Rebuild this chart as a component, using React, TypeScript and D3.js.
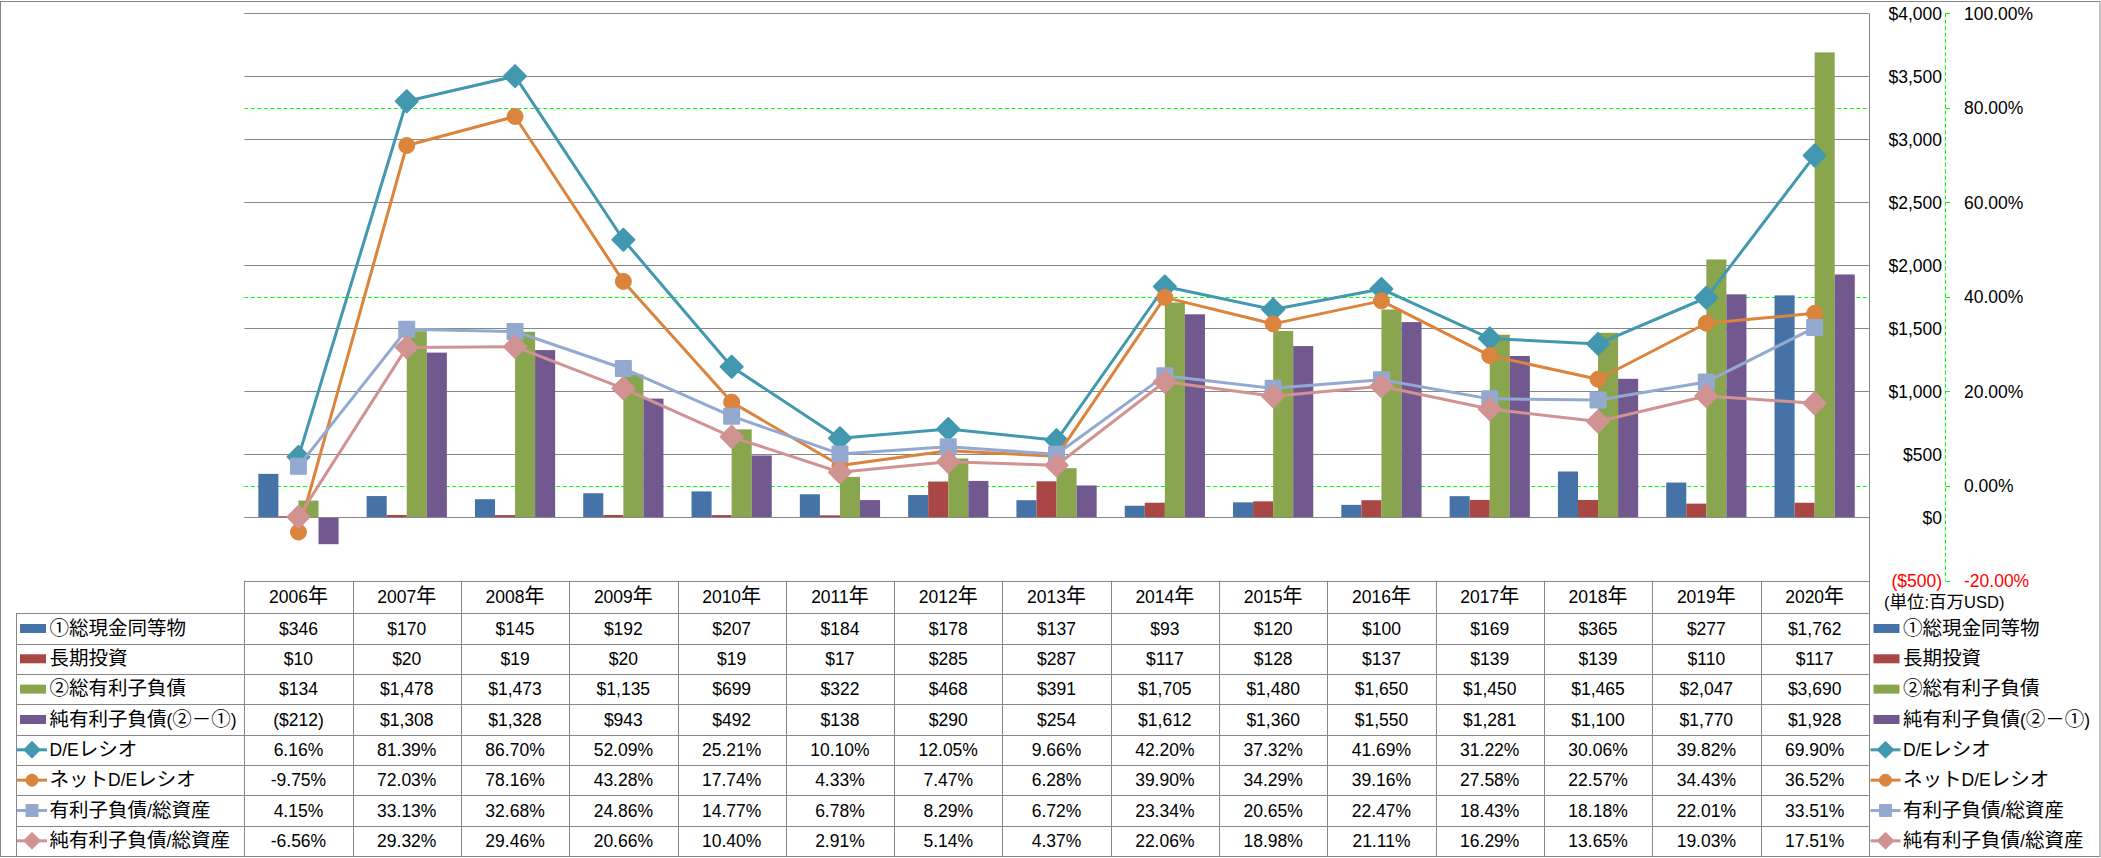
import React from "react";
import * as d3 from "d3";

const years = ["2006年","2007年","2008年","2009年","2010年","2011年","2012年","2013年","2014年","2015年","2016年","2017年","2018年","2019年","2020年"];
const cash = [346,170,145,192,207,184,178,137,93,120,100,169,365,277,1762];
const ltInvest = [10,20,19,20,19,17,285,287,117,128,137,139,139,110,117];
const debt = [134,1478,1473,1135,699,322,468,391,1705,1480,1650,1450,1465,2047,3690];
const netDebt = [-212,1308,1328,943,492,138,290,254,1612,1360,1550,1281,1100,1770,1928];
const deRatio = [6.16,81.39,86.70,52.09,25.21,10.10,12.05,9.66,42.20,37.32,41.69,31.22,30.06,39.82,69.90];
const netDeRatio = [-9.75,72.03,78.16,43.28,17.74,4.33,7.47,6.28,39.90,34.29,39.16,27.58,22.57,34.43,36.52];
const debtToAssets = [4.15,33.13,32.68,24.86,14.77,6.78,8.29,6.72,23.34,20.65,22.47,18.43,18.18,22.01,33.51];
const netDebtToAssets = [-6.56,29.32,29.46,20.66,10.40,2.91,5.14,4.37,22.06,18.98,21.11,16.29,13.65,19.03,17.51];
const leftTicks = [-500,0,500,1000,1500,2000,2500,3000,3500,4000];
const rightTicks = [-20,0,20,40,60,80,100];
const rightGrid = [0,40,80];

type Series = { name: string; kind: "bar" | "line"; color: string; marker?: string; values: number[] };
const series: Series[] = [
  { name: "①総現金同等物", kind: "bar", color: "#4572A7", values: cash },
  { name: "長期投資", kind: "bar", color: "#AA4643", values: ltInvest },
  { name: "②総有利子負債", kind: "bar", color: "#89A54E", values: debt },
  { name: "純有利子負債(②－①)", kind: "bar", color: "#71588F", values: netDebt },
  { name: "D/Eレシオ", kind: "line", color: "#4198AF", marker: "diamond", values: deRatio },
  { name: "ネットD/Eレシオ", kind: "line", color: "#DB843D", marker: "circle", values: netDeRatio },
  { name: "有利子負債/総資産", kind: "line", color: "#93A9CF", marker: "square", values: debtToAssets },
  { name: "純有利子負債/総資産", kind: "line", color: "#D19392", marker: "diamond", values: netDebtToAssets },
];

const W = 2101, H = 858;
const plotL = 244.3, plotR = 1868.8, plotT = 13.3, plotB = 580.5;
const tableTop = 580.7, headBot = 613.3, tableBot = 856;
const rowH = (tableBot - headBot) / 8;
const GRID = "#878787";
const LATIN = "'Liberation Sans', Arial, sans-serif";
const CJK = "'Noto Sans CJK JP', sans-serif";
const crisp = (v: number) => Math.round(v) + 0.5;

function runs(s: string) {
  const out: { t: string; latin: boolean }[] = [];
  for (const ch of s) {
    const latin = ch.charCodeAt(0) < 128;
    if (out.length && out[out.length - 1].latin === latin) out[out.length - 1].t += ch;
    else out.push({ t: ch, latin });
  }
  return out;
}

function MText({ x, y, text, anchor = "start", fill = "#000", ls = 17.5, cs = 19.5 }: any) {
  return (
    <text x={x} y={y + 0.36 * ls} textAnchor={anchor} fill={fill} style={{ whiteSpace: "pre" }}>
      {runs(text).map((r, i) => (
        <tspan key={i} fontFamily={r.latin ? LATIN : CJK} fontSize={r.latin ? ls : cs}>{r.t}</tspan>
      ))}
    </text>
  );
}

function markerPath(kind: string, s: number) {
  if (kind === "diamond") return `M0,${-s}L${s},0L0,${s}L${-s},0Z`;
  if (kind === "square") return `M${-s},${-s}H${s}V${s}H${-s}Z`;
  return d3.symbol(d3.symbolCircle, Math.PI * s * s)() as string;
}

function Marker({ kind, x, y, color, big }: any) {
  const s = kind === "diamond" ? (big ? 11 : 7.5) : kind === "circle" ? (big ? 8 : 6) : (big ? 7.5 : 5.5);
  return (
    <path d={markerPath(kind, s)} transform={`translate(${x},${y})`} fill={color} stroke={color}
      strokeWidth={kind === "circle" ? 1 : 2} strokeLinejoin="round" />
  );
}

function fmtMoney(v: number) {
  const f = d3.format(",");
  return v < 0 ? `($${f(-v)})` : `$${f(v)}`;
}
function fmtPct(v: number) {
  return `${v.toFixed(2)}%`;
}

export default function App() {
  const x = d3.scaleBand<string>().domain(years).range([plotL, plotR]).padding(0);
  const colW = x.bandwidth();
  const xc = (i: number) => (x(years[i]) as number) + colW / 2;
  const yL = d3.scaleLinear().domain([-500, 4000]).range([plotB, plotT]);
  const yR = d3.scaleLinear().domain([-20, 100]).range([plotB, plotT]);
  const barW = colW / (4 + 1.4);
  const bars = series.filter((s) => s.kind === "bar");
  const lines = series.filter((s) => s.kind === "line");
  const lineGen = (vals: number[]) =>
    d3.line<number>().x((_, i) => xc(i)).y((v) => yR(v))(vals) as string;
  const rowCy = (r: number) => headBot + rowH * (r + 0.5);

  return (
    <div style={{ position: "absolute", left: 0, top: 0, background: "#fff" }}>
      <svg width={W} height={H} style={{ display: "block" }}>
        <rect x={0} y={0} width={W} height={H} fill="#fff" />
        <rect x={0.5} y={1.5} width={2099.5} height={855} fill="none" stroke={GRID} strokeWidth={1} />

        {/* gridlines */}
        {leftTicks.map((t) => (
          <line key={"g" + t} x1={plotL} x2={plotR} y1={crisp(yL(t))} y2={crisp(yL(t))} stroke={GRID} strokeWidth={1} />
        ))}
        {rightGrid.map((t) => (
          <line key={"gg" + t} x1={plotL} x2={plotR} y1={crisp(yR(t))} y2={crisp(yR(t))} stroke="#00FF00" strokeWidth={1} strokeDasharray="4,2.5" />
        ))}

        {/* bars */}
        {bars.map((s, si) =>
          s.values.map((v, i) => {
            const x0 = xc(i) - 2 * barW + si * barW;
            const y0 = yL(Math.max(0, v));
            const y1 = yL(Math.min(0, v));
            return <rect key={s.name + i} x={x0} y={y0} width={barW} height={Math.max(0, y1 - y0)} fill={s.color} />;
          })
        )}
        <line x1={plotL} x2={plotR} y1={crisp(yL(0))} y2={crisp(yL(0))} stroke={GRID} strokeWidth={1} />

        {/* lines */}
        {lines.map((s) => (
          <g key={s.name}>
            <path d={lineGen(s.values)} fill="none" stroke={s.color} strokeWidth={3} strokeLinejoin="round" />
            {s.values.map((v, i) => (
              <Marker key={i} kind={s.marker} x={xc(i)} y={yR(v)} color={s.color} big />
            ))}
          </g>
        ))}

        {/* right frame line */}
        <line x1={crisp(plotR)} x2={crisp(plotR)} y1={plotT} y2={tableBot} stroke={GRID} strokeWidth={1} />

        {/* secondary axis */}
        <line x1={1945.5} x2={1945.5} y1={plotT} y2={plotB} stroke="#00FF00" strokeWidth={1} strokeDasharray="4,2.5" />
        {rightTicks.map((t) => (
          <line key={"rt" + t} x1={1945.5} x2={1950} y1={crisp(yR(t))} y2={crisp(yR(t))} stroke="#00FF00" strokeWidth={1} />
        ))}
        {leftTicks.map((t) => (
          <MText key={"lt" + t} x={1942} y={yL(t)} text={fmtMoney(t)} anchor="end" fill={t < 0 ? "#FF0000" : "#000"} ls={17.5} />
        ))}
        {rightTicks.map((t) => (
          <MText key={"rl" + t} x={1964} y={yR(t)} text={fmtPct(t)} anchor="start" fill={t < 0 ? "#FF0000" : "#000"} ls={17.5} />
        ))}
        <MText x={1884} y={602} text="(単位:百万USD)" ls={16.5} cs={17.5} />

        {/* data table */}
        <line x1={plotL} x2={plotR} y1={crisp(tableTop)} y2={crisp(tableTop)} stroke={GRID} />
        {d3.range(9).map((r) => (
          <line key={"hr" + r} x1={16} x2={plotR} y1={crisp(headBot + r * rowH)} y2={crisp(headBot + r * rowH)} stroke={GRID} />
        ))}
        <line x1={16.5} x2={16.5} y1={headBot} y2={tableBot} stroke={GRID} />
        {d3.range(16).map((c) => (
          <line key={"vc" + c} x1={crisp(plotL + c * colW)} x2={crisp(plotL + c * colW)} y1={tableTop} y2={tableBot} stroke={GRID} />
        ))}
        {years.map((yr, i) => (
          <MText key={yr} x={xc(i)} y={(tableTop + headBot) / 2} text={yr} anchor="middle" ls={17.5} cs={20} />
        ))}
        {series.map((s, r) =>
          s.values.map((v, i) => (
            <MText key={s.name + "v" + i} x={xc(i)} y={rowCy(r)} text={s.kind === "bar" ? fmtMoney(v) : fmtPct(v)} anchor="middle" ls={17.5} />
          ))
        )}

        {/* legend keys in table and right legend */}
        {series.map((s, r) =>
          [{ kx: 20, tx: 49.5 }, { kx: 1873.5, tx: 1903 }].map((p, k) => (
            <g key={s.name + "lg" + k}>
              {s.kind === "bar" ? (
                <rect x={p.kx} y={rowCy(r) - 4.5} width={26} height={9} fill={s.color} />
              ) : (
                <g>
                  <line x1={p.kx - 3} x2={p.kx + 27} y1={rowCy(r)} y2={rowCy(r)} stroke={s.color} strokeWidth={3} />
                  <Marker kind={s.marker} x={p.kx + 12} y={rowCy(r)} color={s.color} />
                </g>
              )}
              <MText x={p.tx} y={rowCy(r)} text={s.name} ls={17.5} cs={19.5} />
            </g>
          ))
        )}
      </svg>
    </div>
  );
}
